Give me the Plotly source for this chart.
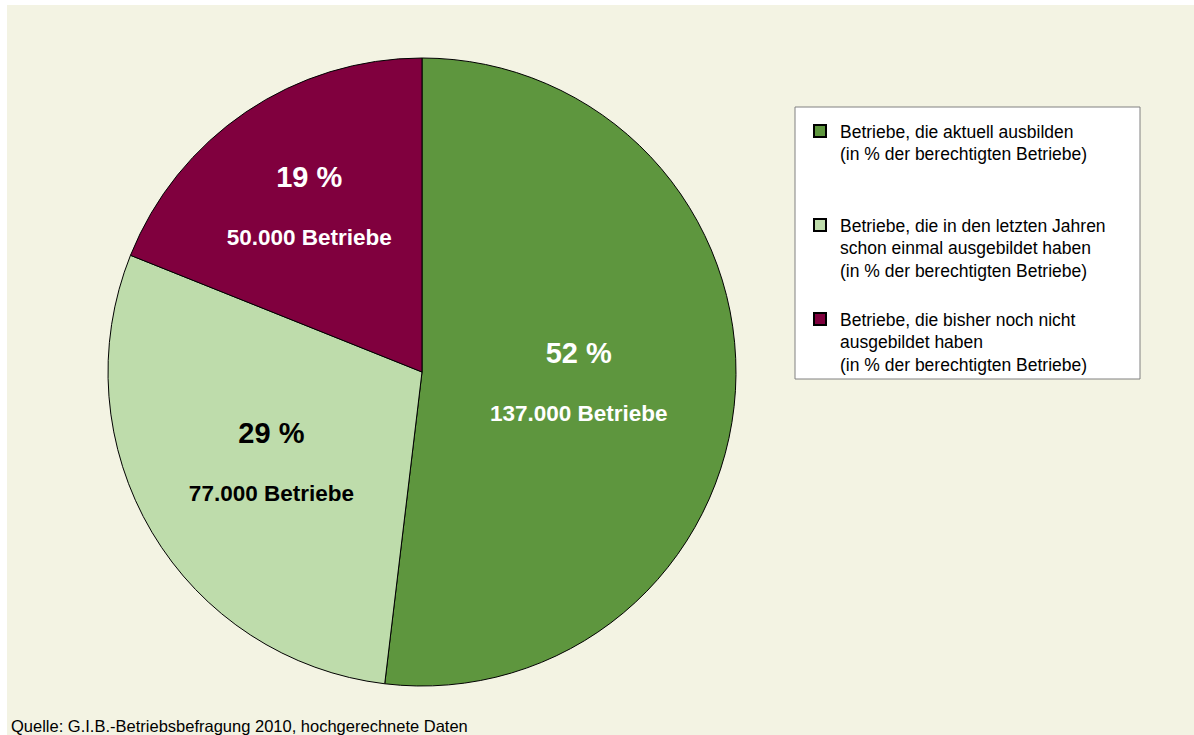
import plotly.graph_objects as go

categories = [
    "Betriebe, die aktuell ausbilden<br>(in % der berechtigten Betriebe)<br> <br> ",
    "Betriebe, die in den letzten Jahren<br>schon einmal ausgebildet haben<br>(in % der berechtigten Betriebe)<br> ",
    "Betriebe, die bisher noch nicht<br>ausgebildet haben<br>(in % der berechtigten Betriebe)",
]
betriebe = [137000, 77000, 50000]
pct_labels = ["52 %", "29 %", "19 %"]
count_labels = ["137.000 Betriebe", "77.000 Betriebe", "50.000 Betriebe"]
colors = ["#5E963E", "#BEDCAB", "#80003E"]
text_colors = ["white", "black", "white"]

W, H = 1194, 735

slice_text = [
    f'<b><span style="font-size:29px">{p}</span></b><br><br><b>{c}</b>'
    for p, c in zip(pct_labels, count_labels)
]

fig = go.Figure()
fig.add_trace(
    go.Pie(
        labels=categories,
        values=betriebe,
        text=slice_text,
        textinfo="text",
        textposition="inside",
        insidetextorientation="horizontal",
        insidetextfont=dict(family="Liberation Sans", size=22.5, color=text_colors),
        marker=dict(colors=colors, line=dict(color="black", width=1)),
        sort=False,
        direction="clockwise",
        rotation=0,
        domain=dict(x=[108 / W, 736 / W], y=[1 - 686 / H, 1 - 58 / H]),
        hoverinfo="label+percent",
    )
)

# beige chart area
fig.add_shape(
    type="rect", xref="paper", yref="paper",
    x0=7 / W, x1=1, y0=0, y1=1 - 5 / H,
    fillcolor="#F3F3E3", line_width=0, layer="below",
)
# legend box
fig.add_shape(
    type="rect", xref="paper", yref="paper",
    x0=795 / W, x1=1140 / W, y0=1 - 379 / H, y1=1 - 107 / H,
    fillcolor="white", line=dict(color="#808080", width=1), layer="below",
)

fig.add_annotation(
    text="Quelle: G.I.B.-Betriebsbefragung 2010, hochgerechnete Daten",
    xref="paper", yref="paper", x=9 / W, y=1 - 726 / H,
    xanchor="left", yanchor="middle", showarrow=False,
    font=dict(family="Liberation Sans", size=16.5, color="black"),
)

fig.update_layout(
    width=W,
    height=H,
    margin=dict(l=0, r=0, t=0, b=0),
    paper_bgcolor="white",
    plot_bgcolor="white",
    font=dict(family="Liberation Sans", color="black"),
    legend=dict(
        x=800 / W, y=1 - 113 / H, xanchor="left", yanchor="top",
        bgcolor="rgba(0,0,0,0)", borderwidth=0,
        font=dict(family="Liberation Sans", size=17.5, color="black"),
        valign="top", itemsizing="constant",
    ),
)

fig.write_html(
    "out.html",
    config={"displayModeBar": False},
    post_script="document.body.style.margin='0px';",
)
